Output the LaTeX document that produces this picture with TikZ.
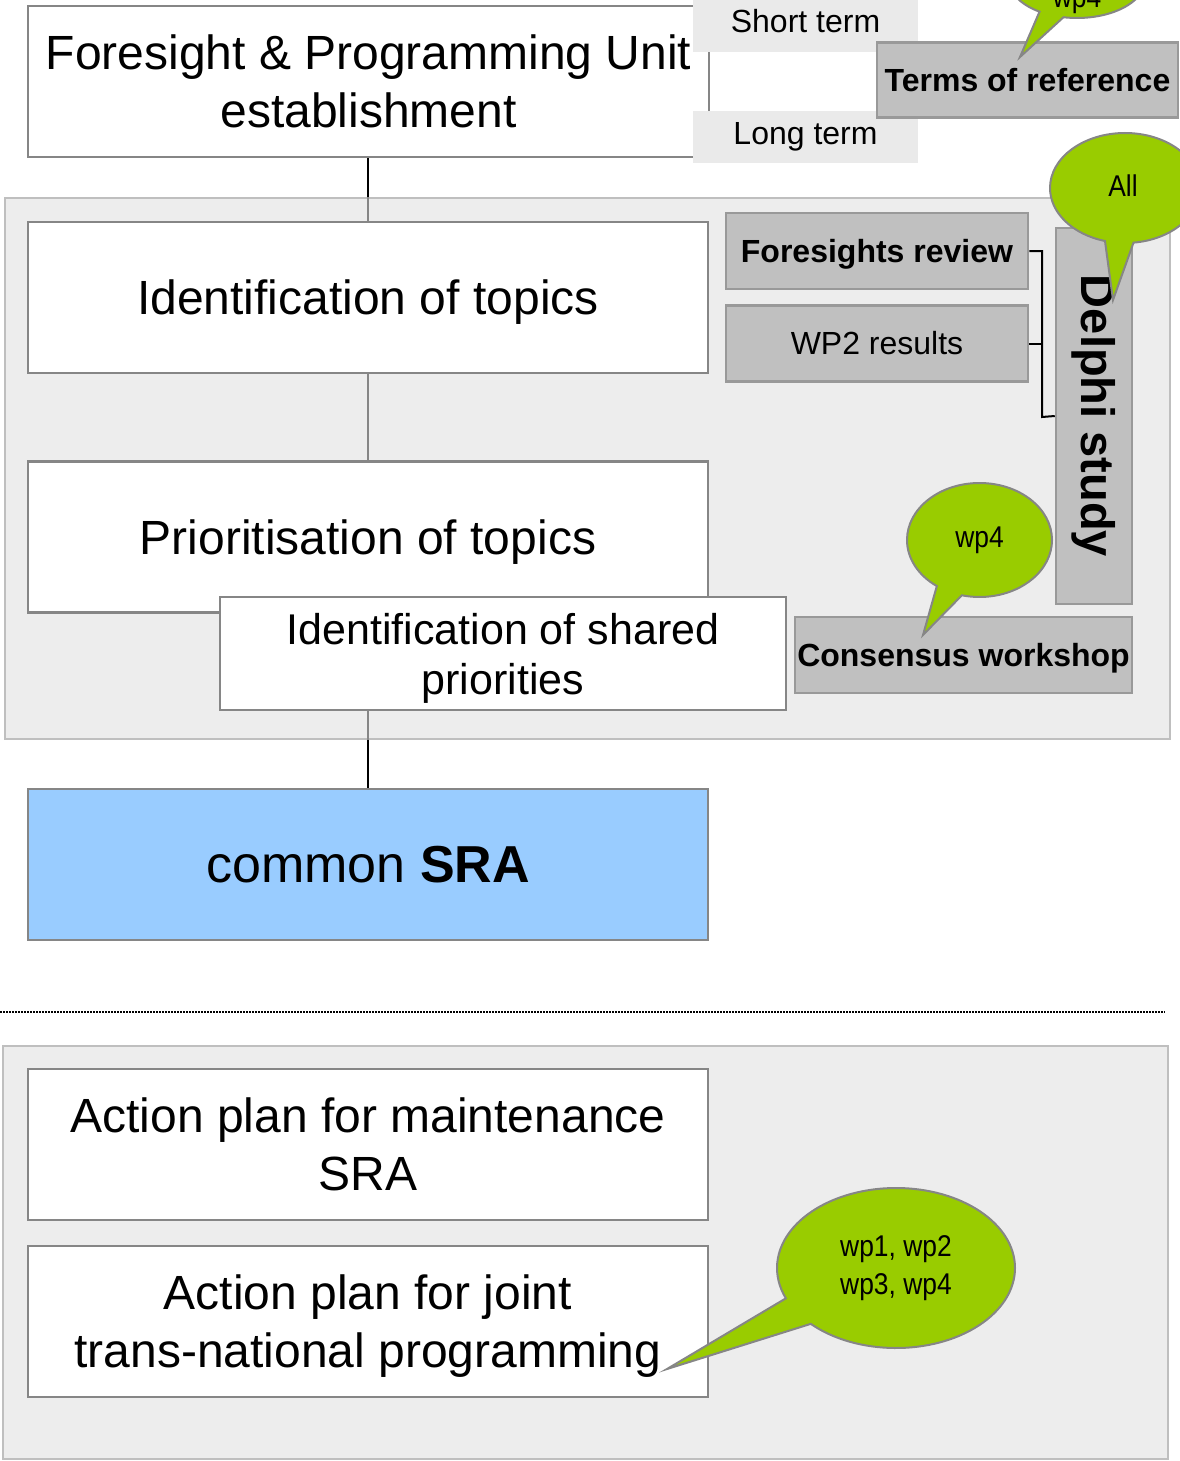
\documentclass[tikz,border=0pt]{standalone}
\usepackage{fontspec}
\setmainfont{Liberation Sans}
\newfontfamily\condfont[FakeStretch=0.88]{Liberation Sans}
\usetikzlibrary{shapes.callouts}
\definecolor{panelgrey}{RGB}{237,237,237}
\definecolor{panelline}{RGB}{191,191,191}
\definecolor{boxline}{RGB}{134,134,134}
\definecolor{tabgrey}{RGB}{192,192,192}
\definecolor{tabline}{RGB}{153,153,153}
\definecolor{termgrey}{RGB}{234,234,234}
\definecolor{bubblegreen}{RGB}{153,204,0}
\definecolor{srablue}{RGB}{153,204,255}
\newcommand\boxfont{\fontsize{48}{58}\selectfont}
\newcommand\tabfont{\fontsize{32}{38}\selectfont}
\newcommand\bubblefont{\condfont\fontsize{30}{38}\selectfont}

\begin{document}
\begin{tikzpicture}[x=1pt, y=-1pt,
		panel/.style = {draw=panelline, fill=panelgrey, line width=2, inner sep=0},
		stage/.style = {draw=boxline, fill=white, line width=2.5, inner sep=0, align=center,
			text depth=0, minimum width=680, minimum height=151, font=\boxfont},
		tab/.style = {draw=tabline, fill=tabgrey, line width=2.5, inner sep=0, align=center,
			minimum width=302, minimum height=76, font=\tabfont},
		flat/.style = {text depth=0},
		term/.style = {fill=termgrey, inner sep=0, minimum width=225, minimum height=52, font=\tabfont},
		bubble/.style = {ellipse callout, draw=boxline, fill=bubblegreen, line width=2,
			inner sep=0, align=center, callout pointer arc=22, font=\bubblefont},
		link/.style = {draw=black, line width=2},
		inlink/.style = {draw=boxline, line width=2}]
	\clip (0,0) rectangle (1180,1461);
	
	% grey panels
	\node [panel, minimum width=1165, minimum height=541] (panel1) at (587.5,468.5) {};
	\node [panel, minimum width=1165, minimum height=413] (panel2) at (585.5,1252.5) {};
	\coordinate (dotl) at (0,1012);
	\coordinate (dotr) at (1165,1012);
	\draw [line width=2.5, dash pattern=on 1.5 off 1.5] (dotl) -- (dotr);
	
	% stages
	\node [stage, minimum width=681] (fpu) at (368.5,81.5) {Foresight \& Programming Unit\\establishment};
	\node [stage] (topics) at (368,297.5) {Identification of topics};
	\node [stage] (prio) at (368,537) {Prioritisation of topics};
	\node [stage] (sra) at (368,864.5) [fill=srablue, font=\fontsize{52}{62}\selectfont] {common \textbf{SRA}};
	\node [stage] (maint) at (368,1144.5) {Action plan for maintenance\\SRA};
	\node [stage] (joint) at (368,1321.5) {Action plan for joint\\trans-national programming};
	
	\draw [link] (topics.north |- fpu.south) -- (topics.north |- panel1.north);
	\draw [inlink] (topics.north |- panel1.north) -- (topics.north);
	\draw [inlink] (topics.south) -- (prio.north);
	\draw [inlink] (sra.north |- prio.south) -- (sra.north |- panel1.south);
	\draw [link] (sra.north |- panel1.south) -- (sra.north);
	
	\node [stage, minimum width=566, minimum height=113, font=\fontsize{43}{50}\selectfont]
		(shared) at (503,653.5) {Identification of shared\\priorities};
	
	% terms
	\node [term, minimum height=62] (short) at (805.5,21) {Short term};
	\node [term] (long) at (805.5,137) {Long term};
	\node [tab, minimum width=301, minimum height=75] (tor) at (1027.5,80) {\textbf{Terms of reference}};
	
	% delphi
	\node [tab, flat] (forev) at (877,251) {\textbf{Foresights review}};
	\node [tab] (wp2) at (877,343.5) {WP2 results};
	\node [tab, minimum width=376, rotate=-90, font=\fontsize{47}{56}\selectfont\bfseries]
		(delphi) at (1094,416) {Delphi study};
	\node [tab, flat, minimum width=337] (cons) at (963.5,655) {\textbf{Consensus workshop}};
	
	\coordinate (brk) at (1042,417);
	\draw [line width=2] (forev.east) -| (brk) -- (delphi.south);
	\draw [line width=2] (wp2.east) -- (wp2.east -| brk);
	
	% bubbles
	\coordinate (torTip) at (1020,57);
	\coordinate (allTip) at (1113,300);
	\coordinate (consTip) at (923,635);
	\coordinate (jointTip) at (667,1369);
	\node [bubble, minimum width=136, minimum height=76, callout absolute pointer=(torTip)]
		(torwp) at (1077,-20) {\raisebox{-28pt}[0pt][0pt]{wp4}};
	\node [bubble, minimum width=150, minimum height=110, callout absolute pointer=(allTip)]
		(allwp) at (1125,188) {\raisebox{4pt}{All}\hspace{4pt}};
	\node [bubble, minimum width=145, minimum height=114, callout absolute pointer=(consTip)]
		(conswp) at (979.5,540) {wp4};
	\node [bubble, minimum width=238, minimum height=160, callout absolute pointer=(jointTip)]
		(jointwp) at (896,1268) {wp1, wp2\\wp3, wp4};
\end{tikzpicture}
\end{document}
